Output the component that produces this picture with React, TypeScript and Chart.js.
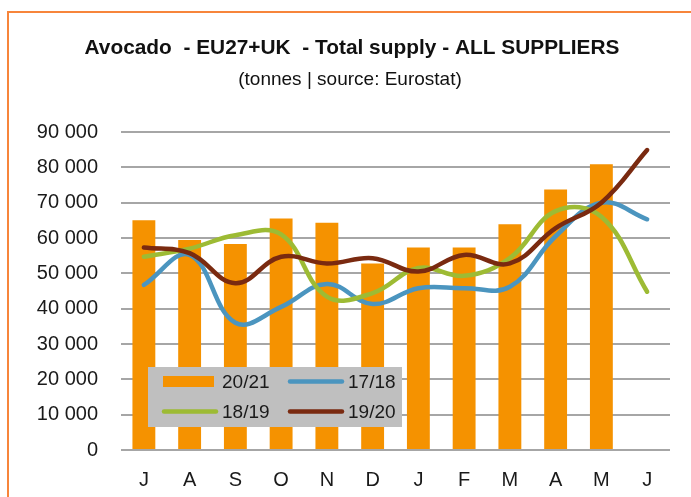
import React, { useEffect, useRef } from "react";
import { Chart, registerables } from "chart.js";

Chart.register(...registerables);

const months = ["J", "A", "S", "O", "N", "D", "J", "F", "M", "A", "M", "J"];
const yTicks = [0, 10000, 20000, 30000, 40000, 50000, 60000, 70000, 80000, 90000];
const supply2021 = [65000, 59400, 58300, 65500, 64300, 52800, 57300, 57300, 63900, 73700, 80900, null];
const supply1718 = [46700, 55200, 36000, 40500, 47000, 41300, 45800, 45800, 46200, 60500, 70000, 65300];
const supply1819 = [54700, 57000, 60800, 61000, 43400, 44400, 51500, 49300, 54300, 67600, 66000, 44800];
const supply1920 = [57300, 55700, 47200, 54700, 52800, 54300, 50500, 55200, 52800, 62800, 70000, 84900];

const titleText = "Avocado  - EU27+UK  - Total supply - ALL SUPPLIERS";
const subtitleText = "(tonnes | source: Eurostat)";

const FONT = "'Liberation Sans', Arial, sans-serif";

const fmt = (v: number) => {
  const s = String(Math.round(v));
  return s.replace(/\B(?=(\d{3})+(?!\d))/g, " ");
};

const framePlugin = {
  id: "frame",
  beforeDraw(chart: any) {
    const ctx = chart.ctx;
    ctx.save();
    ctx.fillStyle = "#ffffff";
    ctx.fillRect(0, 0, chart.width, chart.height);
    ctx.strokeStyle = "#F7853B";
    ctx.lineWidth = 2;
    ctx.strokeRect(8, 12, 800, 600);
    ctx.fillStyle = "#111111";
    ctx.textAlign = "center";
    ctx.textBaseline = "middle";
    ctx.font = `bold 21px ${FONT}`;
    ctx.fillText(titleText, 352, 48, 535);
    ctx.font = `19px ${FONT}`;
    ctx.fillText(subtitleText, 350, 80, 261);
    ctx.restore();
  },
};

const legendPlugin = {
  id: "boxLegend",
  afterDraw(chart: any) {
    const ctx = chart.ctx;
    const ds = chart.data.datasets;
    ctx.save();
    ctx.fillStyle = "#BFBFBF";
    ctx.fillRect(148, 367, 254, 60);
    const slots = [
      { x: 163, y: 381.5 },
      { x: 289, y: 381.5 },
      { x: 163, y: 411.5 },
      { x: 289, y: 411.5 },
    ];
    ds.forEach((d: any, i: number) => {
      const s = slots[i];
      if (d.type === "line") {
        ctx.strokeStyle = d.borderColor;
        ctx.lineWidth = 4.5;
        ctx.lineCap = "round";
        ctx.beginPath();
        ctx.moveTo(s.x + 1, s.y);
        ctx.lineTo(s.x + 53, s.y);
        ctx.stroke();
      } else {
        ctx.fillStyle = d.backgroundColor;
        ctx.fillRect(s.x, s.y - 5.5, 51, 11);
      }
      ctx.fillStyle = "#1a1a1a";
      ctx.font = `19px ${FONT}`;
      ctx.textAlign = "left";
      ctx.textBaseline = "middle";
      ctx.fillText(d.label, s.x + 59, s.y + 1);
    });
    ctx.restore();
  },
};

export default function App() {
  const ref = useRef<HTMLCanvasElement | null>(null);
  useEffect(() => {
    if (!ref.current) return;
    const lineCommon = {
      type: "line" as const,
      borderWidth: 4.5,
      pointRadius: 0,
      tension: 0.4,
      fill: false,
      borderCapStyle: "round" as const,
    };
    const chart = new Chart(ref.current, {
      type: "bar",
      data: {
        labels: months,
        datasets: [
          {
            type: "bar",
            label: "20/21",
            data: supply2021,
            backgroundColor: "#F59200",
            borderWidth: 0,
            categoryPercentage: 1,
            barPercentage: 0.5,
            order: 3,
          } as any,
          { ...lineCommon, label: "17/18", data: supply1718, borderColor: "#4B95BF", order: 2 },
          { ...lineCommon, label: "18/19", data: supply1819, borderColor: "#9DBB34", order: 1 },
          { ...lineCommon, label: "19/20", data: supply1920, borderColor: "#7A2A10", order: 0 },
        ],
      },
      options: {
        responsive: false,
        animation: false,
        maintainAspectRatio: false,
        layout: { padding: { left: 0, top: 132, right: 21, bottom: 0 } },
        plugins: {
          legend: { display: false },
          title: { display: false },
          tooltip: { enabled: false },
        },
        scales: {
          x: {
            offset: true,
            grid: { display: false, drawTicks: false },
            border: { display: false },
            ticks: {
              color: "#1a1a1a",
              font: { family: FONT, size: 20 },
              padding: 18,
              maxRotation: 0,
            },
            afterFit: (s: any) => {
              s.height = 47;
            },
          },
          y: {
            min: 0,
            max: 90000,
            afterBuildTicks: (s: any) => {
              s.ticks = yTicks.map((v) => ({ value: v }));
            },
            grid: { color: "#A6A6A6", lineWidth: 2, drawTicks: false },
            border: { display: false },
            ticks: {
              color: "#1a1a1a",
              font: { family: FONT, size: 20 },
              padding: 23,
              callback: (v: any) => fmt(Number(v)),
            },
            afterFit: (s: any) => {
              s.width = 121;
            },
          },
        },
      },
      plugins: [framePlugin, legendPlugin],
    });
    return () => chart.destroy();
  }, []);
  return (
    <div style={{ position: "fixed", left: 0, top: 0, width: 691, height: 497 }}>
      <canvas ref={ref} width={691} height={497} style={{ display: "block" }} />
    </div>
  );
}
